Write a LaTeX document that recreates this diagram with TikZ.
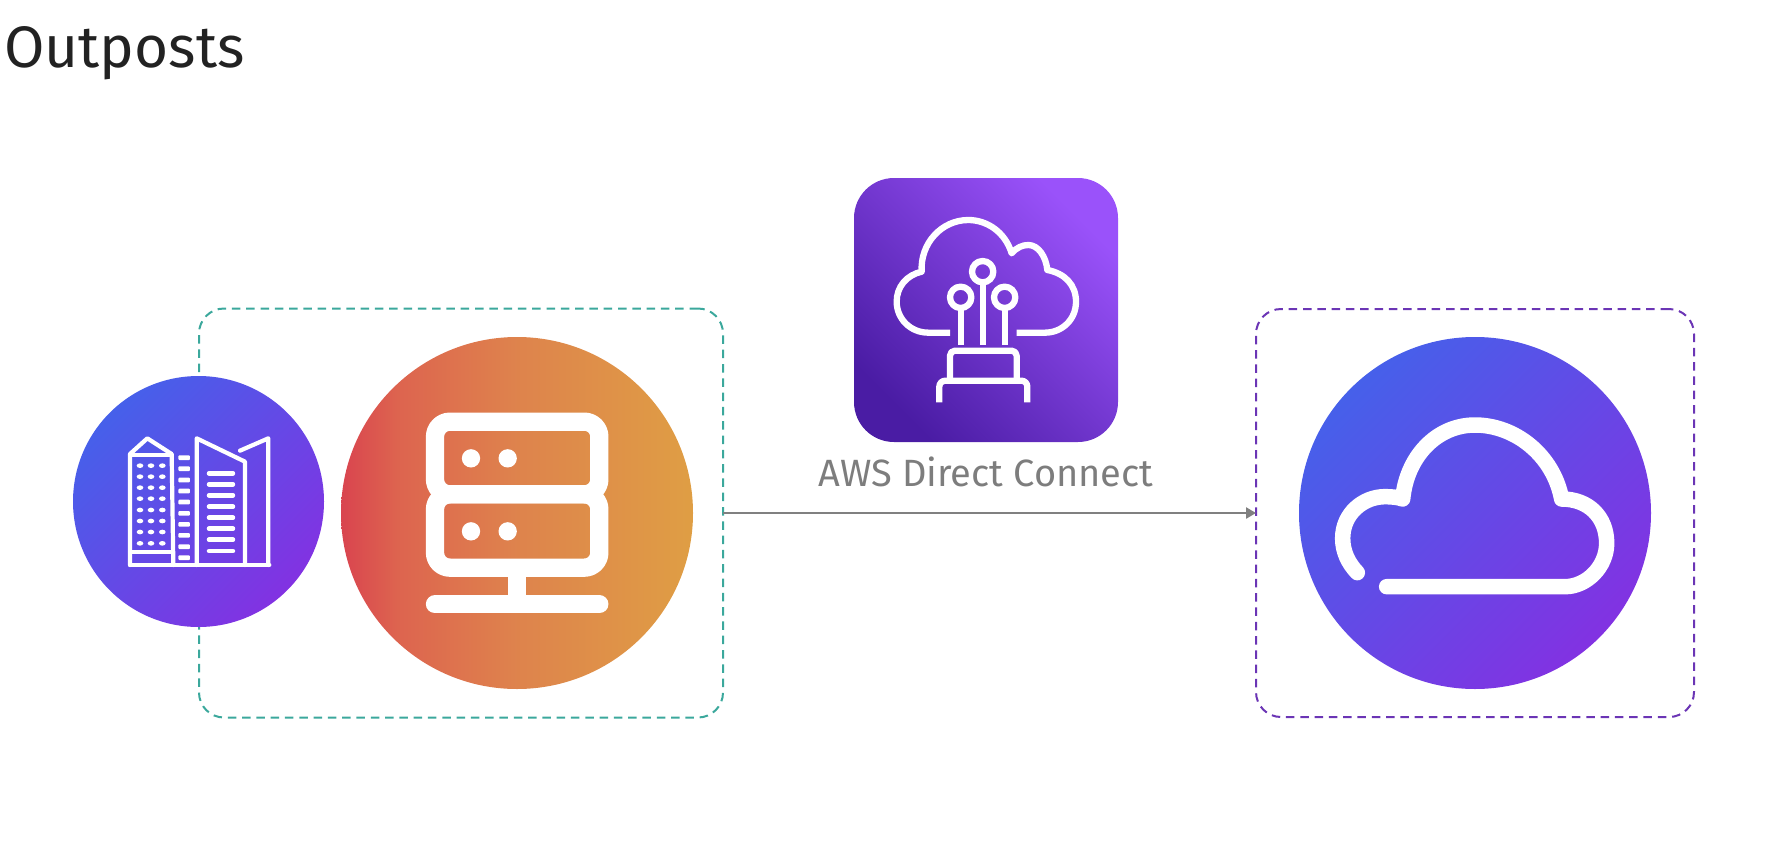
\documentclass[tikz,border=0pt]{standalone}
\usepackage{fontspec}
\setmainfont{Fira Sans}
\usetikzlibrary{arrows.meta}
\definecolor{bluA}{HTML}{4660EA}
\definecolor{purB}{HTML}{8232E2}
\definecolor{awsA}{HTML}{9A52FA}
\definecolor{awsB}{HTML}{4A1CA4}
\definecolor{tealdash}{HTML}{3BA89C}
\definecolor{purdash}{HTML}{6B35B5}
\definecolor{arrowgray}{HTML}{808080}
\definecolor{labelgray}{HTML}{7D7D7D}
\definecolor{titleink}{HTML}{222222}
\pgfdeclarehorizontalshading{orangeshade}{100bp}{
  rgb(0bp)=(0.851,0.267,0.31);
  rgb(25bp)=(0.851,0.267,0.31);
  rgb(33bp)=(0.867,0.392,0.31);
  rgb(50bp)=(0.871,0.514,0.30);
  rgb(75bp)=(0.875,0.62,0.267);
  rgb(100bp)=(0.875,0.62,0.267)}
\tikzset{
  dashbox/.style={draw, rounded corners=25pt, line width=2pt, dash pattern=on 8.5pt off 5.8pt, inner sep=0pt, outer sep=0pt},
  bluedisc/.style={circle, inner sep=0pt, outer sep=0pt, top color=bluA, bottom color=purB, shading angle=45},
  orangedisc/.style={circle, inner sep=0pt, outer sep=0pt, shading=orangeshade},
  awstile/.style={rectangle, inner sep=0pt, outer sep=0pt, rounded corners=40pt, top color=awsA, bottom color=awsB, shading angle=-45},
  iconthin/.style={draw=white, line width=4.2pt, line cap=round, line join=round},
  iconmid/.style={draw=white, line width=6.3pt, line join=round},
  iconfat/.style={draw=white, line width=18.3pt, line join=round},
  iconcloud/.style={draw=white, line width=15.5pt, line cap=round, line join=round},
  linkarrow/.style={draw=arrowgray, line width=2.5pt, -{Triangle[length=10pt,width=11pt]}}
}
\begin{document}
\begin{tikzpicture}[x=1pt,y=-1pt]
\useasboundingbox (0,0) rectangle (1792,857);
\node[anchor=base west, text=titleink, font=\fontsize{58.5}{60}\selectfont, inner sep=0pt] (title) at (4,67) {Outposts};
% dashed containers
\node[dashbox, draw=tealdash, minimum width=524pt, minimum height=409pt] (tealbox) at (461,513) {};
\node[dashbox, draw=purdash, minimum width=438pt, minimum height=408pt] (purplebox) at (1475,513) {};
% discs
\node[bluedisc, minimum size=251pt] (building) at (198.5,501.5) {};
\node[orangedisc, minimum size=352pt] (server) at (517,513) {};
\node[bluedisc, minimum size=352pt] (cloud) at (1475,513) {};
\node[awstile, minimum size=264pt] (aws) at (986,310) {};
\node[anchor=base, text=labelgray, font=\fontsize{38}{40}\selectfont, inner sep=0pt] (awslabel) at (986,486) {AWS Direct Connect};
% connector
\draw[linkarrow] (tealbox.east) -- (purplebox.west);
% building icon
\begin{scope}[shift={(60,300)},x=0.33333pt,y=-0.33333pt]
  \draw[iconthin] (210,795) -- (210,462) -- (262,415) -- (335,462) -- (340,795);
  \draw[iconthin] (210,466) -- (335,466);
  \draw[iconthin] (210,757) -- (340,757);
  \draw[iconthin] (210,795) -- (628,795);
  \draw[iconthin] (410,795) -- (410,415) -- (555,485) -- (555,795);
  \draw[iconthin] (540,452) -- (625,415) -- (625,795);
  \foreach \yy in {497,530,563,596,630,663,696,730}{
    \foreach \xx in {240,273,307}{
      \fill[white] (\xx,\yy) ellipse [x radius=10, y radius=7];
    }
  }
  \foreach \yy in {473,506,540,573,606,640,673,706,740,773}{
    \fill[white,rounded corners=1pt] (355,\yy-7) rectangle (390,\yy+7);
  }
  \foreach \yy in {520,553,586,620,653,686,719,753}{
    \draw[draw=white,line width=4.5pt,line cap=round] (447,\yy) -- (519,\yy);
  }
\end{scope}
% server icon
\begin{scope}[shift={(330,320)},x=0.33333pt,y=-0.33333pt]
  \draw[iconfat, rounded corners=15pt] (315,305) rectangle (808,523);
  \draw[iconfat, rounded corners=15pt] (315,523) rectangle (808,743);
  \draw[iconfat] (561,743) -- (561,853);
  \draw[iconfat, line cap=round] (315,853) -- (808,853);
  \foreach \xx/\yy in {423/415,533/415,423/634,533/634}{
    \fill[white] (\xx,\yy) circle (27.5);
  }
\end{scope}
% direct connect icon
\begin{scope}[shift={(840,160)},x=0.33333pt,y=-0.33333pt]
  \draw[iconmid] (330,518) -- (265,518) .. controls (210,518) and (170,475) .. (170,425)
     .. controls (170,380) and (200,345) .. (245,335)
     .. controls (240,250) and (305,180) .. (385,180)
     .. controls (440,180) and (495,215) .. (515,280)
     .. controls (530,262) and (548,255) .. (565,255)
     .. controls (595,255) and (618,290) .. (622,330)
     .. controls (675,340) and (708,375) .. (708,425)
     .. controls (708,480) and (665,518) .. (615,518) -- (530,518);
  \foreach \xx/\yy in {428/335,362/412,494/412}{
    \draw[iconmid] (\xx,\yy) circle (32);
    \draw[iconmid] (\xx,\yy+32) -- (\xx,555);
  }
  \draw[iconmid, rounded corners=5pt] (330,655) -- (330,572) -- (530,572) -- (530,655);
  \draw[iconmid, rounded corners=6pt] (298,727) -- (298,662) -- (562,662) -- (562,727);
\end{scope}
% cloud icon
\begin{scope}[shift={(1240,300)},x=0.33333pt,y=-0.33333pt]
  \draw[iconcloud] (352,818) .. controls (325,790) and (308,755) .. (308,715)
     .. controls (308,640) and (370,590) .. (435,590)
     .. controls (455,590) and (475,592) .. (488,597)
     .. controls (500,470) and (590,375) .. (705,375)
     .. controls (825,375) and (940,465) .. (965,597)
     .. controls (1045,597) and (1100,650) .. (1100,730)
     .. controls (1100,800) and (1040,860) .. (975,860) -- (440,860);
\end{scope}
\end{tikzpicture}
\end{document}
